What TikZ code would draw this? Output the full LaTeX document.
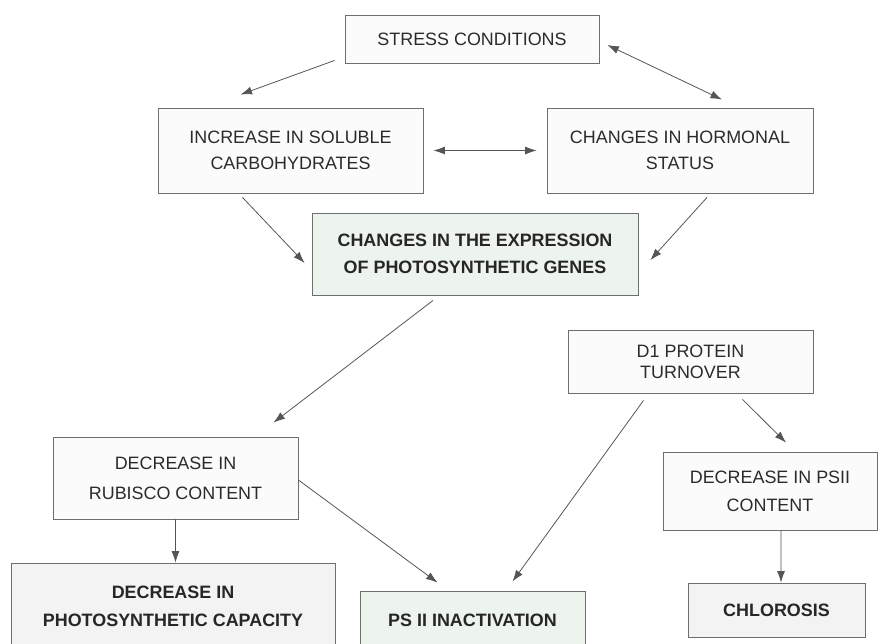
\documentclass[tikz,border=0pt]{standalone}
\usepackage{fontspec}
\setmainfont{Liberation Sans}
\usetikzlibrary{arrows.meta}
\definecolor{boxline}{HTML}{6E6E6E}
\definecolor{arrowgray}{HTML}{555555}
\definecolor{textgray}{HTML}{2B2B2B}
\definecolor{plainfill}{HTML}{FBFBFB}
\definecolor{grayfill}{HTML}{F3F3F3}
\definecolor{greenfill}{HTML}{EDF4EE}
\begin{document}
\begin{tikzpicture}[x=0.02cm, y=-0.02cm,
    box/.style={draw=boxline, line width=0.5pt, fill=plainfill, inner sep=0pt,
      align=center, text=textgray, font=\fontsize{10.2}{15}\selectfont},
    keybox/.style={box, fill=greenfill, text=black!85,
      font=\bfseries\fontsize{10.2}{15.5}\selectfont},
    arr/.style={draw=arrowgray, line width=0.45pt, -{Latex[length=2.3mm,width=1.6mm]}},
    arrboth/.style={arr, {Latex[length=2.3mm,width=1.6mm]}-{Latex[length=2.3mm,width=1.6mm]}}]
	% page frame
	\useasboundingbox (0,0) rectangle (878,643);
	\clip (0,0) rectangle (878,643);
	\fill[white] (0,0) rectangle (878,643);
	% top row
	\node[box, minimum width=5.08cm, minimum height=0.96cm] (stress) at (472,39) {STRESS CONDITIONS};
	\node[box, minimum width=5.3cm, minimum height=1.7cm] (sugars) at (290.5,150.5) {INCREASE IN SOLUBLE\\CARBOHYDRATES};
	\node[box, minimum width=5.32cm, minimum height=1.7cm] (hormones) at (680,150.5) {CHANGES IN HORMONAL\\STATUS};
	% gene expression
	\node[keybox, minimum width=6.52cm, minimum height=1.64cm] (genes) at (475,254) {CHANGES IN THE EXPRESSION\\OF PHOTOSYNTHETIC GENES};
	% middle row
	\node[box, font=\fontsize{10.2}{12}\selectfont, minimum width=4.9cm, minimum height=1.26cm] (d1) at (690.5,361.5) {D1 PROTEIN\\TURNOVER};
	\node[box, font=\fontsize{10.2}{17}\selectfont, minimum width=4.9cm, minimum height=1.64cm] (rubisco) at (175.5,478) {DECREASE IN\\RUBISCO CONTENT};
	\node[box, font=\fontsize{10.2}{16}\selectfont, minimum width=4.28cm, minimum height=1.56cm] (psii) at (770,491) {DECREASE IN PSII\\CONTENT};
	% outcomes
	\node[keybox, fill=grayfill, font=\bfseries\fontsize{10.2}{16}\selectfont, minimum width=6.48cm, minimum height=1.72cm] (capacity) at (173,606) {DECREASE IN\\PHOTOSYNTHETIC CAPACITY};
	\node[keybox, minimum width=4.5cm, minimum height=1.16cm] (inact) at (472.5,620) {PS II INACTIVATION};
	\node[keybox, fill=grayfill, minimum width=3.54cm, minimum height=1.08cm] (chlorosis) at (776.5,610) {CHLOROSIS};
	% arrows from stress
	\draw[arr] ([shift={(-10,-3)}]stress.south west) -- ([shift={(-50,-13)}]sugars.north);
	\draw[arrboth] ([shift={(8,6)}]stress.east) -- ([shift={(42,-8)}]hormones.north);
	\draw[arrboth, shorten <=2mm, shorten >=2mm] (sugars) -- (hormones);
	% into gene expression
	\draw[arr] ([shift={(-48,4)}]sugars.south) -- ([shift={(-7,9)}]genes.west);
	\draw[arr] ([shift={(27,4)}]hormones.south) -- ([shift={(12,6)}]genes.east);
	% gene expression to rubisco
	\draw[arr] ([shift={(-42,5)}]genes.south) -- ([shift={(98,-14)}]rubisco.north);
	% rubisco branch
	\draw[arr] (rubisco.south) -- (rubisco.south |- capacity.north);
	\draw[arr] ([shift={(0,2)}]rubisco.east) -- ([shift={(-35,-8)}]inact.north);
	% D1 branch
	\draw[arr] ([shift={(-47,7)}]d1.south) -- ([shift={(40,-9)}]inact.north);
	\draw[arr] ([shift={(52,6)}]d1.south) -- ([shift={(16,-9)}]psii.north);
	\draw[arr] ([shift={(11,0)}]psii.south) -- ([shift={(4.5,0)}]chlorosis.north);
\end{tikzpicture}
\end{document}
